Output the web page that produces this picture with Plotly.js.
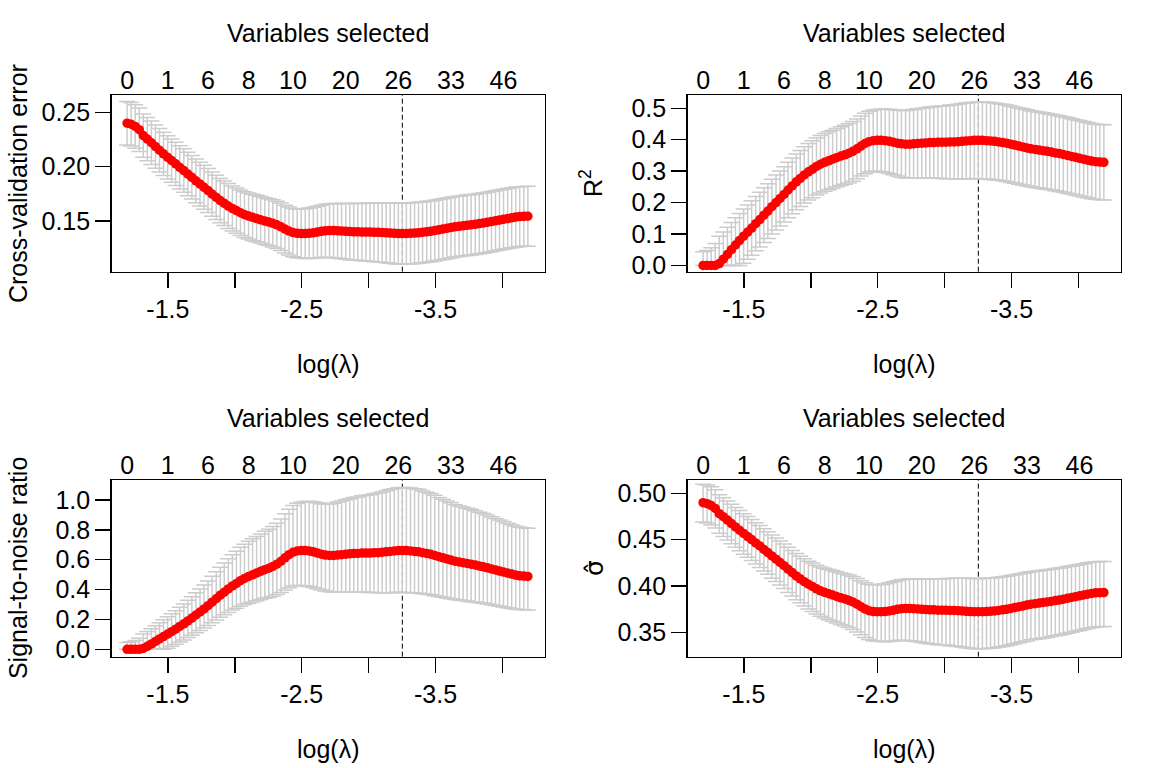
<!DOCTYPE html>
<html><head><meta charset="utf-8">
<script src="https://cdn.plot.ly/plotly-3.0.1.min.js"></script>
<style>html,body{margin:0;padding:0;background:#fff}#chart{width:1152px;height:768px}</style>
</head><body><div id="chart"></div>
<script>
// log(lambda) path (100 values)
const logLambda = [-1.195,-1.225,-1.256,-1.286,-1.316,-1.346,-1.377,-1.407,-1.437,-1.467,
-1.498,-1.528,-1.558,-1.588,-1.619,-1.649,-1.679,-1.709,-1.740,-1.770,
-1.800,-1.830,-1.861,-1.891,-1.921,-1.951,-1.982,-2.012,-2.042,-2.072,
-2.103,-2.133,-2.163,-2.193,-2.224,-2.254,-2.284,-2.314,-2.345,-2.375,
-2.405,-2.435,-2.466,-2.496,-2.526,-2.556,-2.587,-2.617,-2.647,-2.677,
-2.708,-2.738,-2.768,-2.798,-2.829,-2.859,-2.889,-2.919,-2.950,-2.980,
-3.010,-3.040,-3.071,-3.101,-3.131,-3.161,-3.192,-3.222,-3.252,-3.282,
-3.313,-3.343,-3.373,-3.403,-3.434,-3.464,-3.494,-3.524,-3.555,-3.585,
-3.615,-3.645,-3.676,-3.706,-3.736,-3.766,-3.797,-3.827,-3.857,-3.887,
-3.918,-3.948,-3.978,-4.008,-4.039,-4.069,-4.099,-4.129,-4.160,-4.190];

// Panel 1: cross-validation error and its standard error
const cvError = [0.2400,0.2390,0.2370,0.2340,0.2286,0.2254,0.2220,0.2185,0.2151,0.2118,
0.2086,0.2056,0.2026,0.1994,0.1964,0.1932,0.1902,0.1870,0.1840,0.1810,
0.1780,0.1748,0.1718,0.1688,0.1663,0.1638,0.1615,0.1596,0.1576,0.1559,
0.1546,0.1534,0.1523,0.1511,0.1500,0.1490,0.1479,0.1465,0.1447,0.1426,
0.1408,0.1394,0.1387,0.1385,0.1385,0.1387,0.1392,0.1398,0.1405,0.1410,
0.1412,0.1412,0.1410,0.1408,0.1405,0.1403,0.1401,0.1401,0.1398,0.1398,
0.1398,0.1396,0.1396,0.1394,0.1392,0.1389,0.1387,0.1385,0.1385,0.1385,
0.1387,0.1389,0.1392,0.1396,0.1401,0.1405,0.1412,0.1419,0.1426,0.1433,
0.1440,0.1447,0.1451,0.1456,0.1461,0.1465,0.1470,0.1477,0.1481,0.1488,
0.1495,0.1502,0.1509,0.1516,0.1523,0.1530,0.1536,0.1541,0.1543,0.1544];
const cvSE = [0.0200,0.0200,0.0200,0.0200,0.0199,0.0199,0.0199,0.0199,0.0199,0.0199,
0.0199,0.0199,0.0199,0.0199,0.0200,0.0200,0.0200,0.0201,0.0201,0.0202,
0.0202,0.0203,0.0204,0.0204,0.0205,0.0206,0.0207,0.0208,0.0209,0.0210,
0.0211,0.0212,0.0213,0.0214,0.0215,0.0216,0.0217,0.0218,0.0219,0.0220,
0.0221,0.0222,0.0224,0.0226,0.0229,0.0232,0.0235,0.0238,0.0241,0.0244,
0.0247,0.0250,0.0252,0.0254,0.0256,0.0258,0.0260,0.0262,0.0264,0.0266,
0.0268,0.0270,0.0272,0.0274,0.0276,0.0278,0.0279,0.0280,0.0281,0.0281,
0.0281,0.0281,0.0281,0.0280,0.0280,0.0280,0.0280,0.0279,0.0279,0.0279,
0.0279,0.0278,0.0278,0.0278,0.0278,0.0278,0.0277,0.0277,0.0277,0.0277,
0.0277,0.0276,0.0276,0.0276,0.0276,0.0276,0.0276,0.0275,0.0275,0.0275];

// Panel 2: R^2 with lower / upper bounds
const rsq = [0,0,0,0,0.006,0.020,0.035,0.050,0.065,0.079,
0.093,0.106,0.119,0.133,0.146,0.160,0.173,0.187,0.200,0.213,
0.226,0.240,0.253,0.266,0.277,0.288,0.298,0.306,0.315,0.322,
0.328,0.333,0.338,0.343,0.348,0.352,0.357,0.363,0.371,0.380,
0.388,0.394,0.397,0.398,0.398,0.397,0.395,0.392,0.389,0.387,
0.386,0.386,0.387,0.388,0.389,0.390,0.391,0.391,0.392,0.392,
0.392,0.393,0.393,0.394,0.395,0.396,0.397,0.398,0.398,0.398,
0.397,0.396,0.395,0.393,0.391,0.389,0.386,0.383,0.380,0.377,
0.374,0.371,0.369,0.367,0.365,0.363,0.361,0.358,0.356,0.353,
0.350,0.347,0.344,0.341,0.338,0.335,0.332,0.330,0.329,0.328];
const rsqLower = [0,0,0,0,0,0,0,0,0,0,
0.0065,0.0195,0.0325,0.0465,0.059,0.073,0.086,0.0996,0.1126,0.1252,
0.1382,0.1517,0.1643,0.1773,0.1879,0.1984,0.208,0.2156,0.2241,0.2307,
0.2363,0.2408,0.2454,0.250,0.2545,0.2581,0.2627,0.2682,0.2758,0.2843,
0.2919,0.2975,0.2996,0.2997,0.2984,0.2961,0.2928,0.2885,0.2842,0.2809,
0.2786,0.2773,0.2774,0.2776,0.2777,0.2778,0.278,0.2771,0.2772,0.2763,
0.2755,0.2756,0.2747,0.2749,0.275,0.2751,0.2757,0.2763,0.2758,0.2758,
0.2748,0.2738,0.2728,0.2713,0.2693,0.2673,0.2643,0.2617,0.2587,0.2557,
0.2527,0.2501,0.2481,0.2461,0.2441,0.2421,0.2406,0.2376,0.2356,0.2326,
0.2296,0.227,0.224,0.221,0.218,0.215,0.212,0.2104,0.2094,0.2084];
const rsqUpper = [0.0435,0.0478,0.0565,0.0696,0.0925,0.1065,0.1215,0.1365,0.1515,0.1655,
0.1795,0.1925,0.2055,0.2195,0.233,0.247,0.260,0.2744,0.2874,0.3008,
0.3138,0.3283,0.3417,0.3547,0.3661,0.3776,0.388,0.3964,0.4059,0.4133,
0.4197,0.4252,0.4306,0.436,0.4415,0.4459,0.4513,0.4578,0.4662,0.4757,
0.4841,0.4905,0.4944,0.4963,0.4976,0.4979,0.4972,0.4955,0.4938,0.4931,
0.4934,0.4947,0.4966,0.4984,0.5003,0.5022,0.504,0.5049,0.5068,0.5077,
0.5085,0.5104,0.5113,0.5131,0.515,0.5169,0.5183,0.5197,0.5202,0.5202,
0.5192,0.5182,0.5172,0.5147,0.5127,0.5107,0.5077,0.5043,0.5013,0.4983,
0.4953,0.4919,0.4899,0.4879,0.4859,0.4839,0.4814,0.4784,0.4764,0.4734,
0.4704,0.467,0.464,0.461,0.458,0.455,0.452,0.4496,0.4486,0.4476];

// Panel 3: signal-to-noise ratio with lower / upper bounds
const snr = [0,0,0,0,0.0060,0.0204,0.0363,0.0526,0.0695,0.0858,
0.1025,0.1186,0.1351,0.1534,0.1710,0.1905,0.2092,0.2300,0.2500,0.2706,
0.2920,0.3158,0.3387,0.3624,0.3831,0.4045,0.4245,0.4409,0.4599,0.4749,
0.4881,0.4993,0.5106,0.5221,0.5337,0.5432,0.5552,0.5699,0.5898,0.6129,
0.6340,0.6502,0.6584,0.6611,0.6611,0.6584,0.6529,0.6447,0.6367,0.6313,
0.6287,0.6287,0.6313,0.6340,0.6367,0.6393,0.6420,0.6420,0.6447,0.6447,
0.6447,0.6474,0.6474,0.6502,0.6529,0.6556,0.6584,0.6611,0.6611,0.6611,
0.6584,0.6556,0.6529,0.6474,0.6420,0.6367,0.6287,0.6207,0.6129,0.6051,
0.5974,0.5898,0.5848,0.5798,0.5748,0.5699,0.5649,0.5576,0.5528,0.5456,
0.5385,0.5314,0.5244,0.5175,0.5106,0.5038,0.4970,0.4925,0.4903,0.4881];
const snrLower = [0,0,0,0,0,0,0,0,0,0,
0.0065,0.0199,0.0336,0.0488,0.0627,0.0787,0.0941,0.1106,0.1269,0.1431,
0.1604,0.1788,0.1966,0.2155,0.2314,0.2475,0.2626,0.2749,0.2888,0.2999,
0.3094,0.3172,0.3252,0.3333,0.3414,0.3479,0.3563,0.3665,0.3808,0.3972,
0.4122,0.4235,0.4278,0.4280,0.4253,0.4207,0.4140,0.4055,0.3970,0.3906,
0.3862,0.3837,0.3839,0.3843,0.3845,0.3847,0.3850,0.3833,0.3835,0.3818,
0.3803,0.3805,0.3787,0.3791,0.3793,0.3795,0.3806,0.3818,0.3808,0.3808,
0.3789,0.3770,0.3751,0.3723,0.3686,0.3648,0.3592,0.3545,0.3490,0.3435,
0.3382,0.3335,0.3300,0.3264,0.3229,0.3194,0.3168,0.3116,0.3082,0.3031,
0.2980,0.2937,0.2887,0.2837,0.2788,0.2739,0.2690,0.2665,0.2649,0.2633];
const snrUpper = [0.0455,0.0502,0.0599,0.0748,0.1019,0.1192,0.1383,0.1581,0.1786,0.1983,
0.2188,0.2384,0.2587,0.2812,0.3038,0.3280,0.3514,0.3782,0.4033,0.4302,
0.4573,0.4888,0.5191,0.5497,0.5775,0.6067,0.6340,0.6567,0.6832,0.7045,
0.7232,0.7397,0.7562,0.7730,0.7905,0.8047,0.8225,0.8443,0.8734,0.9073,
0.9384,0.9627,0.9778,0.9853,0.9904,0.9916,0.9889,0.9822,0.9755,0.9728,
0.9739,0.9790,0.9865,0.9936,1.0012,1.0088,1.0161,1.0198,1.0276,1.0313,
1.0346,1.0425,1.0462,1.0538,1.0619,1.0700,1.0760,1.0820,1.0842,1.0842,
1.0799,1.0756,1.0713,1.0606,1.0521,1.0437,1.0313,1.0173,1.0052,0.9932,
0.9814,0.9681,0.9604,0.9527,0.9451,0.9376,0.9283,0.9172,0.9099,0.8990,
0.8882,0.8762,0.8657,0.8553,0.8450,0.8349,0.8248,0.8169,0.8136,0.8103];

// Panel 4: sigma-hat with lower / upper bounds
const sigma = [0.4899,0.4889,0.4868,0.4837,0.4781,0.4748,0.4712,0.4674,0.4638,0.4602,
0.4567,0.4534,0.4501,0.4465,0.4432,0.4395,0.4361,0.4324,0.4290,0.4254,
0.4219,0.4181,0.4145,0.4109,0.4078,0.4047,0.4019,0.3995,0.3970,0.3948,
0.3932,0.3917,0.3903,0.3887,0.3873,0.3860,0.3846,0.3828,0.3804,0.3776,
0.3752,0.3734,0.3724,0.3722,0.3722,0.3724,0.3731,0.3739,0.3748,0.3755,
0.3758,0.3758,0.3755,0.3752,0.3748,0.3746,0.3743,0.3743,0.3739,0.3739,
0.3739,0.3736,0.3736,0.3734,0.3731,0.3727,0.3724,0.3722,0.3722,0.3722,
0.3724,0.3727,0.3731,0.3736,0.3743,0.3748,0.3758,0.3767,0.3776,0.3785,
0.3795,0.3804,0.3809,0.3816,0.3822,0.3828,0.3834,0.3843,0.3848,0.3857,
0.3867,0.3876,0.3885,0.3894,0.3903,0.3912,0.3919,0.3926,0.3928,0.3929];
const sigmaLower = [0.4690,0.4680,0.4658,0.4626,0.4568,0.4533,0.4496,0.4456,0.4418,0.4381,
0.4344,0.4309,0.4274,0.4237,0.4200,0.4162,0.4126,0.4085,0.4048,0.4010,
0.3972,0.3931,0.3891,0.3852,0.3818,0.3784,0.3752,0.3726,0.3697,0.3673,
0.3654,0.3636,0.3619,0.3601,0.3585,0.3569,0.3552,0.3531,0.3504,0.3473,
0.3445,0.3423,0.3410,0.3404,0.3400,0.3399,0.3401,0.3406,0.3412,0.3415,
0.3413,0.3409,0.3403,0.3397,0.3390,0.3384,0.3378,0.3375,0.3367,0.3365,
0.3362,0.3356,0.3353,0.3347,0.3341,0.3333,0.3329,0.3324,0.3323,0.3323,
0.3326,0.3329,0.3333,0.3341,0.3348,0.3354,0.3365,0.3376,0.3387,0.3397,
0.3407,0.3419,0.3425,0.3432,0.3439,0.3445,0.3454,0.3464,0.3470,0.3480,
0.3490,0.3501,0.3511,0.3521,0.3531,0.3541,0.3550,0.3558,0.3561,0.3562];
const sigmaUpper = [0.5099,0.5089,0.5070,0.5040,0.4985,0.4953,0.4918,0.4883,0.4848,0.4814,
0.4780,0.4749,0.4717,0.4683,0.4652,0.4617,0.4585,0.4551,0.4518,0.4486,
0.4452,0.4417,0.4384,0.4350,0.4322,0.4294,0.4268,0.4247,0.4225,0.4206,
0.4192,0.4179,0.4167,0.4153,0.4141,0.4130,0.4118,0.4102,0.4082,0.4057,
0.4036,0.4020,0.4014,0.4014,0.4017,0.4024,0.4034,0.4045,0.4057,0.4067,
0.4073,0.4077,0.4077,0.4077,0.4076,0.4076,0.4076,0.4078,0.4077,0.4079,
0.4082,0.4082,0.4084,0.4084,0.4084,0.4083,0.4082,0.4080,0.4082,0.4082,
0.4084,0.4087,0.4090,0.4094,0.4100,0.4105,0.4113,0.4121,0.4129,0.4138,
0.4146,0.4153,0.4158,0.4164,0.4170,0.4175,0.4180,0.4188,0.4193,0.4201,
0.4210,0.4217,0.4225,0.4233,0.4241,0.4250,0.4257,0.4261,0.4264,0.4265];

// Top axis: number of variables selected, shown at these points of the path
const nvarsLabels = ["0","1","6","8","10","20","26","33","46"];
const nvarsIndex = [0,10,20,30,41,54,67,80,93];
// Index of the lambda with minimum CV error (dashed line)
const minIndex = 68;

// Bottom axis: labelled ticks and unlabelled ticks
const bottomTickVals = [-1.5,-2.5,-3.5];
const bottomTickText = ["-1.5","-2.5","-3.5"];
const bottomMinorVals = [-2.0,-3.0,-4.0];

const yTitles = ["Cross-validation error","R<sup>2</sup>","Signal-to-noise ratio","\u03C3\u0302"];
const yTitleFonts = ["Liberation Sans, Arial, sans-serif","Liberation Sans, Arial, sans-serif","Liberation Sans, Arial, sans-serif","DejaVu Sans, sans-serif"];
const yTickVals = [[0.15,0.20,0.25],[0,0.1,0.2,0.3,0.4,0.5],[0,0.2,0.4,0.6,0.8,1.0],[0.35,0.40,0.45,0.50]];
const yTickFmt = [".2f",".1f",".1f",".2f"];

// ---------- layout geometry (pixels) ----------
const W = 1152, H = 768;
const FONT = "Liberation Sans, Arial, sans-serif";
const cols = [[111.7,544.6],[687.7,1120.6]];
const rows = [[95,271.7],[480,656.7]];
const yRanges = [[0.1034,0.2659],[-0.0200,0.5424],[-0.0493,1.1339],[0.3237,0.5144]];
const xRange = [-1.080,-4.315];

const centers = [cvError, rsq, snr, sigma];
const lowers = [null, rsqLower, snrLower, sigmaLower];
const uppers = [null, rsqUpper, snrUpper, sigmaUpper];

const traces = [];
const layout = {
  width: W, height: H, margin: {l:0,r:0,t:0,b:0},
  paper_bgcolor: "#fff", plot_bgcolor: "#fff",
  showlegend: false, hovermode: false,
  font: {family: FONT, size: 25, color: "#000"},
  shapes: [], annotations: []
};

for (let p = 0; p < 4; p++) {
  const col = cols[p % 2], row = rows[Math.floor(p / 2)];
  const n = p + 1, sfx = n === 1 ? "" : String(n);
  const topN = p + 5;
  const xd = [col[0] / W, col[1] / W];
  const yd = [(H - row[1]) / H, (H - row[0]) / H];

  let err;
  if (p === 0) {
    err = {type: "data", array: cvSE, symmetric: true};
  } else {
    err = {type: "data", symmetric: false,
      array: uppers[p].map((u, i) => u - centers[p][i]),
      arrayminus: lowers[p].map((l, i) => centers[p][i] - l)};
  }
  Object.assign(err, {color: "#CCCCCC", thickness: 1.5, width: 8});

  traces.push({
    type: "scatter", mode: "markers", x: logLambda, y: centers[p],
    xaxis: "x" + sfx, yaxis: "y" + sfx,
    marker: {color: "rgba(0,0,0,0)", size: 1},
    error_y: err, hoverinfo: "skip"
  });
  traces.push({
    type: "scatter", mode: "markers", x: logLambda, y: centers[p],
    xaxis: "x" + sfx, yaxis: "y" + sfx,
    marker: {color: "#FF0000", size: 9.5}, hoverinfo: "skip"
  });

  layout["xaxis" + sfx] = {
    domain: xd, range: xRange, anchor: "y" + sfx,
    tickmode: "array", tickvals: bottomTickVals, ticktext: bottomTickText,
    ticks: "outside", ticklen: 15, tickwidth: 1.5, tickcolor: "#000",
    minor: {tickmode: "array", tickvals: bottomMinorVals, ticks: "outside",
      ticklen: 15, tickwidth: 1.5, tickcolor: "#000", showgrid: false},
    showline: true, linewidth: 1.5, linecolor: "#000", mirror: true,
    showgrid: false, zeroline: false, tickfont: {size: 25, family: FONT}
  };
  layout["yaxis" + sfx] = {
    domain: yd, range: yRanges[p], anchor: "x" + sfx,
    tickmode: "array", tickvals: yTickVals[p], tickformat: yTickFmt[p],
    ticks: "outside", ticklen: 15, tickwidth: 1.5, tickcolor: "#000",
    showline: true, linewidth: 1.5, linecolor: "#000", mirror: true,
    showgrid: false, zeroline: false, tickfont: {size: 25, family: FONT}
  };
  layout["xaxis" + topN] = {
    overlaying: "x" + sfx, anchor: "y" + sfx, side: "top", range: xRange,
    tickmode: "array", tickvals: nvarsIndex.map(i => logLambda[i]), ticktext: nvarsLabels,
    ticks: "", showline: false, showgrid: false, zeroline: false,
    tickfont: {size: 25, family: FONT}
  };

  layout.shapes.push({
    type: "line", layer: "below", xref: "x" + sfx, yref: "y" + sfx + " domain",
    x0: logLambda[minIndex], x1: logLambda[minIndex], y0: 0, y1: 1,
    line: {color: "#000", width: 1, dash: "5px,3px"}
  });

  const cx = (col[0] + col[1]) / 2 / W;
  layout.annotations.push({
    text: "Variables selected", xref: "paper", yref: "paper",
    x: cx, y: (H - (row[0] - 62)) / H, xanchor: "center", yanchor: "middle",
    showarrow: false, font: {size: 25, family: FONT}
  });
  layout.annotations.push({
    text: "log(\u03BB)", xref: "paper", yref: "paper",
    x: cx, y: (H - (row[1] + 92)) / H, xanchor: "center", yanchor: "middle",
    showarrow: false, font: {size: 25, family: FONT}
  });
  layout.annotations.push({
    text: yTitles[p], xref: "paper", yref: "paper", textangle: -90,
    x: (col[0] - (p === 1 ? 96 : 93)) / W, y: (H - (row[0] + row[1]) / 2) / H,
    xanchor: "center", yanchor: "middle",
    showarrow: false, font: {size: 25, family: yTitleFonts[p]}
  });
}

// invisible anchor traces so the top (variables selected) axes are drawn
for (let p = 0; p < 4; p++) {
  traces.push({type: "scatter", mode: "markers", x: [logLambda[0]], y: [centers[p][0]],
    xaxis: "x" + (p + 5), yaxis: "y" + (p === 0 ? "" : p + 1),
    marker: {size: 1, color: "rgba(0,0,0,0)"}, hoverinfo: "skip"});
}

Plotly.newPlot("chart", traces, layout, {staticPlot: true, displayModeBar: false});
</script>
</body></html>
